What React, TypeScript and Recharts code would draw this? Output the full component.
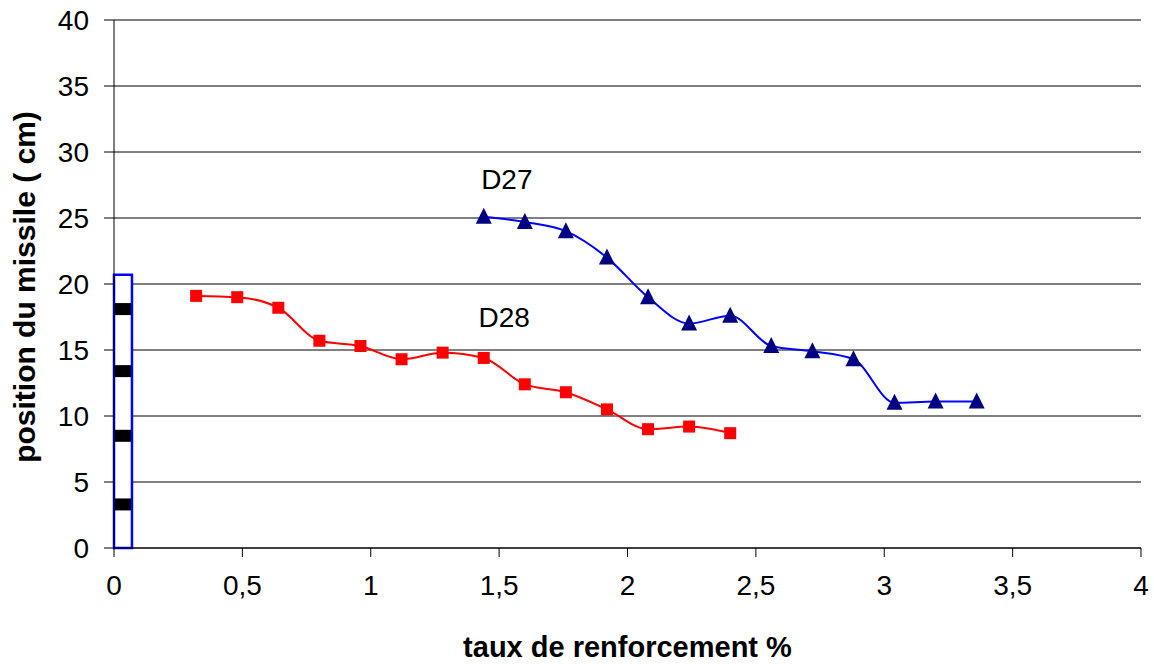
import React from 'react'
import {
  ComposedChart,
  Line,
  Scatter,
  XAxis,
  YAxis,
  CartesianGrid,
  ReferenceArea,
  ReferenceDot,
  Label,
} from 'recharts'

// axes
const xTicks = [0, 0.5, 1, 1.5, 2, 2.5, 3, 3.5, 4]
const yTicks = [0, 5, 10, 15, 20, 25, 30, 35, 40]

// D28 (red squares)
const d28X = [0.32, 0.48, 0.64, 0.8, 0.96, 1.12, 1.28, 1.44, 1.6, 1.76, 1.92, 2.08, 2.24, 2.4]
const d28Y = [19.1, 19.0, 18.2, 15.7, 15.3, 14.3, 14.8, 14.4, 12.4, 11.8, 10.5, 9.0, 9.2, 8.7]

// D27 (blue triangles)
const d27X = [1.44, 1.6, 1.76, 1.92, 2.08, 2.24, 2.4, 2.56, 2.72, 2.88, 3.04, 3.2, 3.36]
const d27Y = [25.1, 24.7, 24.0, 22.0, 19.0, 17.0, 17.6, 15.3, 14.9, 14.3, 11.0, 11.1, 11.1]

// missile sketch on the left
const missileX = [0, 0.07]
const missileTop = 20.7
const missileMarkX = 0.035
const missileMarkY = [18.1, 13.4, 8.5, 3.3]

// curve labels
const curveLabels = [
  { name: 'D27', x: 1.53, y: 27.95 },
  { name: 'D28', x: 1.52, y: 17.5 },
]

const d28 = d28X.map((x, i) => ({ x, y: d28Y[i] }))
const d27 = d27X.map((x, i) => ({ x, y: d27Y[i] }))
const marks = missileMarkY.map((y) => ({ x: missileMarkX, y }))

const FONT = '"Liberation Sans", Arial, sans-serif'

const fmt = (v: number) => String(v).replace('.', ',')

const Square = (props: any) => {
  const { cx, cy } = props
  if (cx == null || cy == null) return null
  return <rect key={`sq-${cx}`} x={cx - 6} y={cy - 6} width={12} height={12} fill="#ff0000" />
}

const Triangle = (props: any) => {
  const { cx, cy } = props
  if (cx == null || cy == null) return null
  return (
    <polygon
      key={`tri-${cx}`}
      points={`${cx},${cy - 9} ${cx + 8},${cy + 7} ${cx - 8},${cy + 7}`}
      fill="#000080"
    />
  )
}

const BlackMark = (props: any) => {
  const { cx, cy } = props
  return <rect x={cx - 8} y={cy - 6} width={16} height={12} fill="#000" />
}

const YTitle = (props: any) => {
  const vb = props.viewBox
  const cy = vb.y + vb.height / 2 + 3
  return (
    <text
      transform={`translate(${vb.x + 21}, ${cy}) rotate(-90)`}
      textAnchor="middle"
      fontSize={30}
      fontWeight="bold"
      fontFamily={FONT}
      fill="#000"
    >
      position du missile ( cm)
    </text>
  )
}

const XTitle = (props: any) => {
  const vb = props.viewBox
  return (
    <text
      x={vb.x + vb.width / 2}
      y={vb.y + 109}
      textAnchor="middle"
      fontSize={29}
      fontWeight="bold"
      fontFamily={FONT}
      fill="#000"
    >
      taux de renforcement %
    </text>
  )
}

export default function App() {
  const tick = { fill: '#000', fontSize: 28, fontFamily: FONT }
  return (
    <div style={{ position: 'absolute', left: 0, top: 0, background: '#fff' }}>
      <ComposedChart
        width={1154}
        height={664}
        margin={{ top: 20, right: 13, bottom: 0, left: 14 }}
      >
        <CartesianGrid vertical={false} stroke="#000" strokeWidth={1} />
        <XAxis
          type="number"
          dataKey="x"
          domain={[0, 4]}
          ticks={xTicks}
          tickFormatter={fmt}
          height={116}
          tick={tick}
          tickSize={9}
          tickMargin={18}
          axisLine={{ stroke: '#000' }}
          tickLine={{ stroke: '#000' }}
        >
          <Label content={XTitle} />
        </XAxis>
        <YAxis
          type="number"
          domain={[0, 40]}
          ticks={yTicks}
          width={100}
          tick={tick}
          tickSize={10}
          tickMargin={15}
          axisLine={{ stroke: '#000' }}
          tickLine={{ stroke: '#000' }}
        >
          <Label content={YTitle} />
        </YAxis>

        <ReferenceArea
          x1={missileX[0]}
          x2={missileX[1]}
          y1={0}
          y2={missileTop}
          fill="#fff"
          fillOpacity={1}
          stroke="#0000ff"
          strokeWidth={2.5}
          ifOverflow="visible"
        />
        <Scatter data={marks} dataKey="y" shape={BlackMark} isAnimationActive={false} />

        <Line
          data={d28}
          dataKey="y"
          type="monotone"
          stroke="#ff0000"
          strokeWidth={2}
          dot={Square}
          activeDot={false}
          isAnimationActive={false}
        />
        <Line
          data={d27}
          dataKey="y"
          type="monotone"
          stroke="#0000ff"
          strokeWidth={2}
          dot={Triangle}
          activeDot={false}
          isAnimationActive={false}
        />

        {curveLabels.map((c) => (
          <ReferenceDot
            key={c.name}
            x={c.x}
            y={c.y}
            r={0}
            fill="none"
            stroke="none"
            label={{
              value: c.name,
              position: 'center',
              fontSize: 28,
              fontFamily: FONT,
              fill: '#000',
            }}
          />
        ))}
      </ComposedChart>
    </div>
  )
}
